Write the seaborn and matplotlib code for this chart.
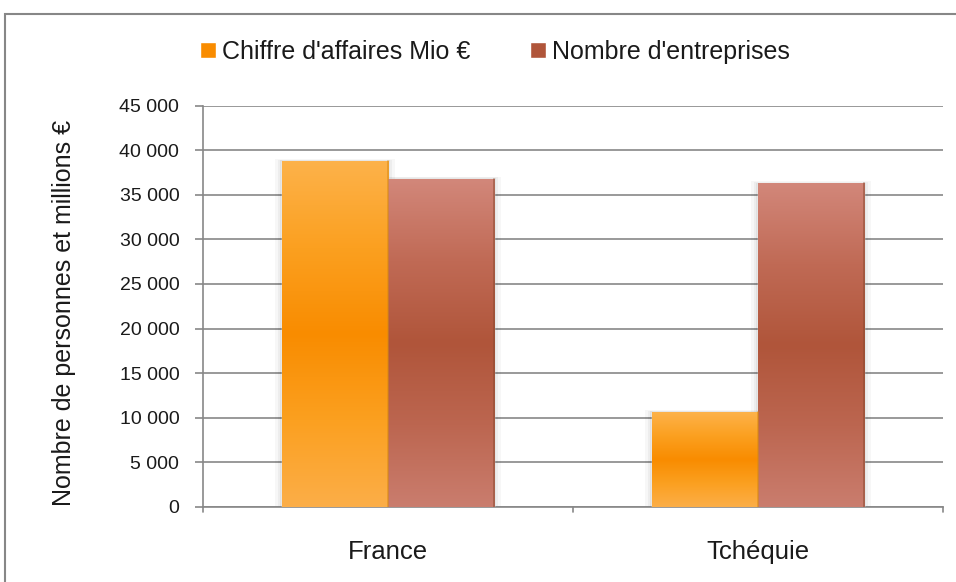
import matplotlib
matplotlib.use("Agg")
import matplotlib.pyplot as plt
import seaborn as sns
import numpy as np
import pandas as pd
from matplotlib.colors import LinearSegmentedColormap
from matplotlib.patches import Rectangle
from matplotlib.ticker import FuncFormatter, MultipleLocator

categories = ["France", "Tchéquie"]
series_names = ["Chiffre d'affaires Mio €", "Nombre d'entreprises"]
chiffre = [38800, 10600]
entreprises = [36800, 36300]
y_label = "Nombre de personnes et millions €"

sns.set_theme(style="white")
plt.rcParams['font.family'] = ['Liberation Sans', 'DejaVu Sans']

df = pd.DataFrame({
    "pays": categories * 2,
    "serie": [series_names[0]] * 2 + [series_names[1]] * 2,
    "valeur": chiffre + entreprises,
})

base_colors = ["#F98C00", "#B0553A"]
fig = plt.figure(figsize=(9.56, 5.82), dpi=100)
ax = fig.add_axes([0.2123, 0.1297, 0.9864 - 0.2123, 0.8179 - 0.1297])

sns.barplot(data=df, x="pays", y="valeur", hue="serie", palette=base_colors,
            width=0.573, ax=ax, legend=False, zorder=3)

ax.set_ylim(0, 45000)
ax.set_xlim(-0.5, 1.5)

grad_cols = [
    ["#FDB24A", "#FBA020", "#F98C00", "#FBA020", "#FCAE48"],
    ["#D2877A", "#C06A55", "#B0553A", "#BC6650", "#CA7D6E"],
]
for i, cont in enumerate(ax.containers):
    cmap = LinearSegmentedColormap.from_list(f"g{i}", grad_cols[i][::-1])
    for p in cont.patches:
        x, w, h = p.get_x(), p.get_width(), p.get_height()
        # soft shadow
        for k, a in enumerate([0.05, 0.04, 0.03]):
            d = 0.006 * (k + 1)
            ax.add_patch(Rectangle((x - d, 0), w + 2 * d, h + 300 * (k + 1) * 0.3,
                                   facecolor="#000000", alpha=a, lw=0, zorder=2))
        grad = np.linspace(0, 1, 256).reshape(-1, 1)
        im = ax.imshow(grad, extent=[x, x + w, 0, h], origin="lower",
                       aspect="auto", cmap=cmap, zorder=4)
        im.set_clip_path(p)
        ax.plot([x + w, x + w], [0, h], color="#8a4a30" if i == 1 else "#d98a10",
                lw=1.2, zorder=5, alpha=0.6)
ax.set_xlim(-0.5, 1.5)
ax.set_ylim(0, 45000)
ax.set_aspect("auto")

ax.yaxis.set_major_locator(MultipleLocator(5000))
ax.yaxis.set_major_formatter(FuncFormatter(lambda v, _: f"{int(v):,}".replace(",", " ")))
ax.grid(axis="y", color="#878787", lw=1.2, zorder=0)
ax.set_axisbelow(True)

for s in ["top", "right"]:
    ax.spines[s].set_visible(False)
for s in ["left", "bottom"]:
    ax.spines[s].set_color("#878787")
    ax.spines[s].set_linewidth(1.2)

ax.tick_params(axis="y", length=6, width=1.2, color="#878787", direction="out",
               left=True, labelsize=14, pad=11, labelcolor="#1a1a1a")
ax.set_xticks([0, 1])
ax.set_xticklabels(categories)
ax.tick_params(axis="x", length=0, labelsize=18.5, pad=24, labelcolor="#1a1a1a")
for xb in [-0.5, 0.5, 1.5]:
    ax.plot([xb, xb], [0, -0.013], transform=ax.get_xaxis_transform(),
            color="#878787", lw=1.2, clip_on=False)

ax.set_xlabel("")
ax.set_ylabel(y_label, fontsize=18, color="#1a1a1a")
ax.yaxis.set_label_coords(-0.171, 0.483)

handles = [Rectangle((0, 0), 1, 1, facecolor=c) for c in base_colors]
fig.legend(handles, series_names, loc="center", bbox_to_anchor=(0.518, 0.911),
           ncol=2, frameon=False, fontsize=18, handlelength=0.62,
           handleheight=0.62, handletextpad=0.25, columnspacing=2.4,
           labelcolor="#1a1a1a")

# outer chart border
border = Rectangle((5 / 956, -0.05), 1.2, 1 - 14 / 582 + 0.05, transform=fig.transFigure,
                   fill=False, edgecolor="#878787", lw=1.5)
fig.add_artist(border)

fig.savefig("out.png", dpi=100)
